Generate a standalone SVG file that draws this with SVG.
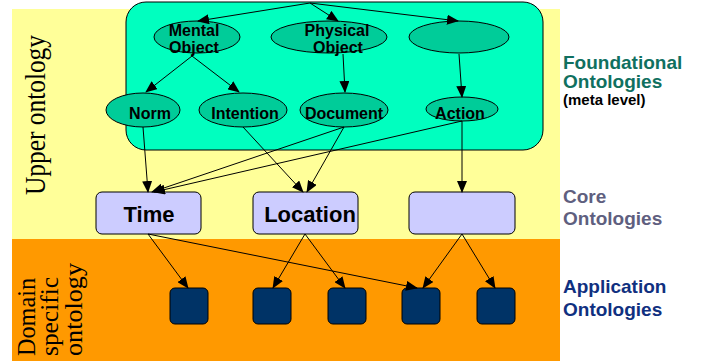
<svg xmlns="http://www.w3.org/2000/svg" width="701" height="362" viewBox="0 0 701 362">
<style>
.ell{fill:#00CC99;stroke:#000;stroke-width:1}
.lbl{font-family:"Liberation Sans",Arial,sans-serif;font-weight:bold;font-size:16px;fill:#000;text-anchor:middle}
.core{fill:#CCCCFF;stroke:#000;stroke-width:1}
.ct{font-family:"Liberation Sans",Arial,sans-serif;font-weight:bold;font-size:22px;fill:#000;text-anchor:middle}
.app{fill:#003366;stroke:#000;stroke-width:1}
.side{font-family:"Liberation Serif","Times New Roman",serif;fill:#000}
.rl{font-family:"Liberation Sans",Arial,sans-serif;font-weight:bold;font-size:19px}
.conn line{stroke:#000;stroke-width:1;marker-end:url(#ah)}
</style>
<defs>
<marker id="ah" markerWidth="12" markerHeight="10" refX="11" refY="5" orient="auto" markerUnits="userSpaceOnUse">
<path d="M0,0 L12,5 L0,10 Z" fill="#000"/>
</marker>
</defs>
<rect width="701" height="362" fill="#fff"/>
<g id="bands">
<rect x="12" y="9" width="548" height="230" fill="#FFFF99"/>
<rect x="12" y="239" width="548" height="122" fill="#FF9900"/>
</g>
<g id="foundational-box">
<rect x="126" y="2" width="417" height="148" rx="20" fill="#00FFBF" stroke="#000" stroke-width="1"/>
</g>
<g id="mental-object">
<ellipse class="ell" cx="197" cy="37" rx="43" ry="16"/>
<text class="lbl" x="194" y="36">Mental</text>
<text class="lbl" x="194" y="53">Object</text>
</g>
<g id="physical-object">
<ellipse class="ell" cx="329" cy="37" rx="58" ry="16"/>
<text class="lbl" x="337" y="36">Physical</text>
<text class="lbl" x="338" y="53">Object</text>
</g>
<g id="blank-ellipse">
<ellipse class="ell" cx="459" cy="37" rx="50" ry="16"/>
</g>
<g id="norm">
<ellipse class="ell" cx="143" cy="110" rx="37" ry="17"/>
<text class="lbl" x="150" y="119">Norm</text>
</g>
<g id="intention">
<ellipse class="ell" cx="243" cy="110" rx="44" ry="17"/>
<text class="lbl" x="245" y="119">Intention</text>
</g>
<g id="document">
<ellipse class="ell" cx="344" cy="110" rx="44" ry="17"/>
<text class="lbl" x="344" y="119">Document</text>
</g>
<g id="action">
<ellipse class="ell" cx="462" cy="109" rx="36" ry="12"/>
<text class="lbl" x="460" y="119">Action</text>
</g>
<g id="time">
<rect class="core" x="96" y="192" width="105" height="42" rx="6"/>
<text class="ct" x="149" y="222">Time</text>
</g>
<g id="location">
<rect class="core" x="253" y="192" width="105" height="42" rx="6"/>
<text class="ct" x="310" y="222">Location</text>
</g>
<g id="core-blank">
<rect class="core" x="409" y="192" width="106" height="42" rx="6"/>
</g>
<g id="app1"><rect class="app" x="170" y="288" width="38" height="36" rx="5"/></g>
<g id="app2"><rect class="app" x="253" y="288" width="38" height="36" rx="5"/></g>
<g id="app3"><rect class="app" x="328" y="288" width="38" height="36" rx="5"/></g>
<g id="app4"><rect class="app" x="402" y="288" width="38" height="36" rx="5"/></g>
<g id="app5"><rect class="app" x="477" y="288" width="38" height="36" rx="5"/></g>
<g id="connectors" class="conn">
<line x1="310" y1="3" x2="198" y2="21"/>
<line x1="310" y1="3" x2="338" y2="21"/>
<line x1="310" y1="3" x2="458" y2="21"/>
<line x1="192" y1="56" x2="146" y2="92"/>
<line x1="192" y1="56" x2="239" y2="92"/>
<line x1="343" y1="54" x2="345" y2="92"/>
<line x1="459" y1="54" x2="462" y2="97"/>
<line x1="143" y1="127" x2="148" y2="192"/>
<line x1="243" y1="127" x2="303" y2="192"/>
<line x1="344" y1="127" x2="307" y2="192"/>
<line x1="344" y1="127" x2="152" y2="192"/>
<line x1="462" y1="121" x2="154" y2="192"/>
<line x1="462" y1="121" x2="462" y2="192"/>
<line x1="148" y1="234" x2="188" y2="288"/>
<line x1="148" y1="234" x2="417" y2="288"/>
<line x1="305" y1="234" x2="273" y2="288"/>
<line x1="305" y1="234" x2="345" y2="288"/>
<line x1="462" y1="234" x2="423" y2="288"/>
<line x1="462" y1="234" x2="495" y2="288"/>
</g>
<g id="side-labels">
<text class="side" font-size="30" transform="translate(45,195) rotate(-90)" textLength="160" lengthAdjust="spacingAndGlyphs">Upper ontology</text>
<text class="side" font-size="26" transform="translate(35,356) rotate(-90)" textLength="78" lengthAdjust="spacingAndGlyphs">Domain</text>
<text class="side" font-size="26" transform="translate(58,356) rotate(-90)" textLength="79" lengthAdjust="spacingAndGlyphs">specific</text>
<text class="side" font-size="26" transform="translate(82,356) rotate(-90)" textLength="93" lengthAdjust="spacingAndGlyphs">ontology</text>
</g>
<g id="right-labels">
<text class="rl" x="563" y="69" fill="#107060">Foundational</text>
<text class="rl" x="563" y="88" fill="#107060">Ontologies</text>
<text x="563" y="105" font-family="Liberation Sans,Arial,sans-serif" font-weight="bold" font-size="15" fill="#000">(meta level)</text>
<text class="rl" x="563" y="203" fill="#5F5F7F">Core</text>
<text class="rl" x="563" y="225" fill="#5F5F7F">Ontologies</text>
<text class="rl" x="563" y="293" fill="#103080">Application</text>
<text class="rl" x="563" y="316" fill="#103080">Ontologies</text>
</g>
</svg>
